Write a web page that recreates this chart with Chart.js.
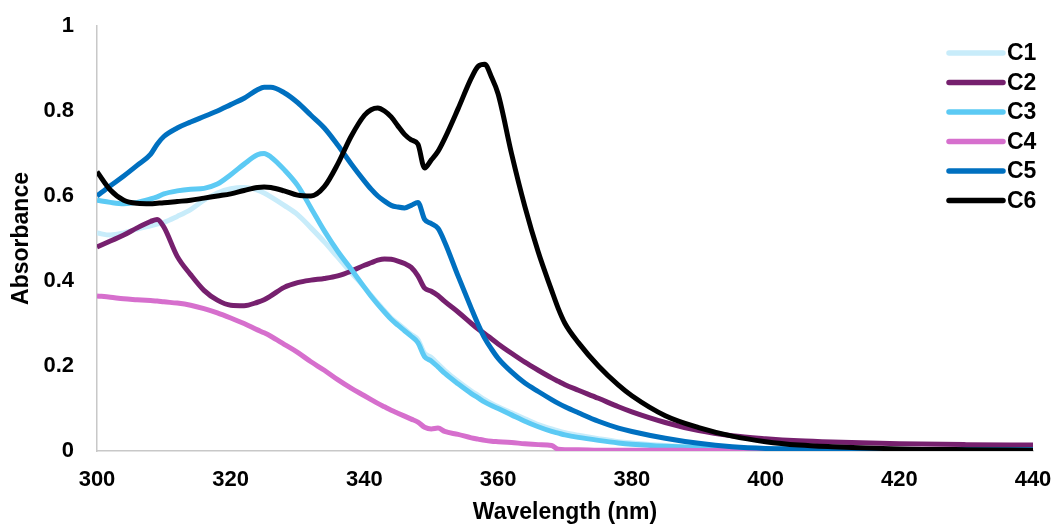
<!DOCTYPE html>
<html>
<head>
<meta charset="utf-8">
<script src="https://cdn.jsdelivr.net/npm/chart.js@4.4.1/dist/chart.umd.min.js"></script>
<style>
  html, body { margin: 0; padding: 0; background: #ffffff; }
  #chart { display: block; }
</style>
</head>
<body>
<canvas id="chart" width="1053" height="524"></canvas>
<script>
/* ===============================
   DATA
================================ */

const wavelengths = [300,302,304,306,308,309,310,312,314,316,318,320,322,324,325,326,328,330,332,334,336,338,340,341,342,343,344,345,346,347,348,349,350,351,352,354,356,357,358,359,360,362,364,366,368,369,370,372,375,378,380,385,390,395,400,405,410,420,430,440];

const seriesNames = ["C1", "C2", "C3", "C4", "C5", "C6"];

const c1 = [.513,.508,.513,.522,.530,.534,.538,.552,.568,.590,.607,.617,.620,.614,.607,.598,.578,.556,.525,.492,.456,.420,.385,.366,.348,.330,.313,.300,.287,.274,.262,.230,.220,.205,.190,.164,.141,.131,.121,.112,.104,.090,.076,.062,.052,.047,.043,.037,.029,.022,.019,.013,.009,.007,.006,.005,.004,.004,.003,.003];

const c2 = [.480,.494,.508,.525,.540,.545,.527,.458,.415,.378,.355,.343,.342,.350,.356,.365,.385,.396,.402,.406,.412,.423,.437,.443,.449,.452,.451,.447,.441,.432,.412,.383,.376,.366,.352,.327,.300,.287,.276,.264,.252,.230,.209,.190,.172,.164,.156,.143,.124,.104,.092,.067,.048,.036,.029,.024,.021,.017,.015,.014];

const c3 = [.590,.585,.582,.585,.593,.598,.605,.612,.616,.618,.628,.650,.675,.697,.700,.692,.662,.625,.572,.518,.470,.428,.385,.364,.345,.327,.310,.296,.283,.270,.255,.222,.212,.198,.183,.158,.135,.125,.115,.107,.100,.085,.070,.057,.046,.042,.038,.032,.025,.019,.016,.011,.008,.006,.005,.004,.004,.003,.003,.003];

const c4 = [.365,.362,.358,.356,.354,.353,.351,.348,.343,.335,.325,.313,.300,.285,.278,.270,.251,.232,.210,.190,.168,.148,.130,.121,.112,.104,.096,.089,.082,.075,.068,.056,.052,.054,.046,.039,.031,.028,.025,.023,.022,.020,.017,.015,.013,.004,.003,.003,.002,.002,.002,.002,.001,.001,.001,.001,.001,.001,.001,.001];

const c5 = [.600,.624,.647,.672,.698,.722,.740,.760,.774,.787,.800,.815,.830,.850,.856,.856,.843,.820,.790,.760,.720,.676,.635,.616,.600,.588,.578,.574,.572,.578,.585,.545,.535,.524,.492,.412,.335,.298,.265,.240,.218,.186,.160,.140,.121,.112,.104,.090,.070,.054,.046,.030,.018,.010,.006,.005,.004,.003,.003,.003];

const c6 = [.657,.614,.590,.583,.582,.583,.584,.587,.590,.595,.600,.605,.613,.620,.621,.620,.612,.602,.600,.622,.675,.740,.790,.803,.807,.800,.786,.765,.745,.732,.722,.666,.685,.705,.735,.805,.878,.905,.910,.880,.840,.700,.575,.468,.378,.335,.300,.255,.200,.155,.130,.083,.055,.035,.022,.014,.010,.005,.003,.002];

const xTicks = [300, 320, 340, 360, 380, 400, 420, 440];
const yTicks = [0, 0.2, 0.4, 0.6, 0.8, 1];

const seriesValues = [c1, c2, c3, c4, c5, c6];
const seriesColors = ["#C8ECFA", "#76206E", "#5CCAF4", "#D66FCD", "#0070C0", "#000000"];

const FONT = "'Liberation Sans', Arial, sans-serif";

/* ===============================
   LEGEND (drawn inside the plot)
================================ */

const legendPlugin = {
  id: "rightLegend",
  afterDraw(chart) {
    const ctx = chart.ctx;
    ctx.save();
    chart.data.datasets.forEach((ds, i) => {
      const y = 53 + i * 29.5;
      ctx.strokeStyle = ds.borderColor;
      ctx.lineWidth = 5.5;
      ctx.lineCap = "round";
      ctx.beginPath();
      ctx.moveTo(949, y);
      ctx.lineTo(1003, y);
      ctx.stroke();
      ctx.fillStyle = "#000000";
      ctx.font = `bold 23px ${FONT}`;
      ctx.textBaseline = "middle";
      ctx.textAlign = "left";
      ctx.fillText(ds.label, 1007, y + 1);
    });
    ctx.restore();
  }
};

/* ===============================
   CHART
================================ */

function renderChart() {
  const ctx = document.getElementById("chart");

  const datasets = seriesNames.map((name, i) => ({
    label: name,
    data: wavelengths.map((w, j) => ({ x: w, y: seriesValues[i][j] })),
    borderColor: seriesColors[i],
    backgroundColor: seriesColors[i],
    borderWidth: 5,
    pointRadius: 0,
    tension: 0.35,
    cubicInterpolationMode: "monotone",
    order: seriesNames.length - i,
    fill: false
  }));

  const tickFont = { family: FONT, size: 22, weight: "bold" };
  const titleFont = { family: FONT, size: 23, weight: "bold", lineHeight: 1 };

  new Chart(ctx, {
    type: "line",
    data: { datasets },
    options: {
      responsive: false,
      animation: false,
      devicePixelRatio: 1,
      layout: {
        autoPadding: false,
        padding: { top: 26, right: 20, bottom: 0, left: 0 }
      },
      plugins: {
        legend: { display: false },
        tooltip: { enabled: false }
      },
      scales: {
        x: {
          type: "linear",
          min: 300,
          max: 440,
          afterBuildTicks: s => { s.ticks = xTicks.map(v => ({ value: v })); },
          afterFit: s => {
            s.height = 73;
            s.paddingLeft = 0;
            s.paddingRight = 0;
          },
          grid: { display: false, drawTicks: false },
          border: { display: true, color: "#C8C8C8", width: 1.5 },
          ticks: {
            color: "#000000",
            padding: 16,
            maxRotation: 0,
            callback: v => `${v}`,
            font: tickFont
          },
          title: {
            display: true,
            text: "Wavelength (nm)",
            color: "#000000",
            padding: { top: 0, bottom: 0 },
            font: titleFont
          }
        },
        y: {
          min: 0,
          max: 1,
          afterBuildTicks: s => { s.ticks = yTicks.map(v => ({ value: v })); },
          afterFit: s => {
            s.width = 97;
            s.paddingTop = 0;
            s.paddingBottom = 0;
          },
          grid: { display: false, drawTicks: false },
          border: { display: true, color: "#C8C8C8", width: 1.5 },
          ticks: {
            color: "#000000",
            padding: 23,
            callback: v => `${v}`,
            font: tickFont
          },
          title: {
            display: true,
            text: "Absorbance",
            color: "#000000",
            padding: { top: 10, bottom: 0 },
            font: titleFont
          }
        }
      }
    },
    plugins: [legendPlugin]
  });
}

renderChart();
</script>
</body>
</html>
